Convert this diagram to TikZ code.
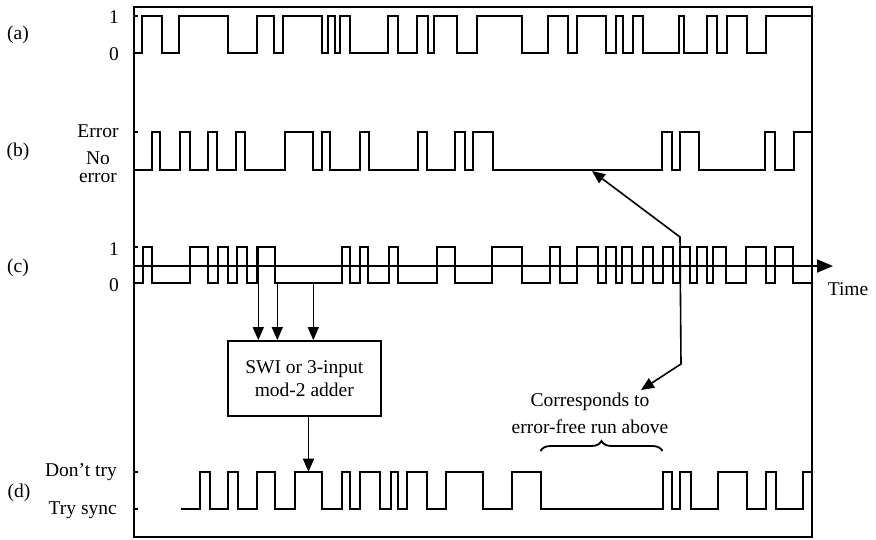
\documentclass[tikz,border=0pt]{standalone}
\usepackage{fontspec}
\setmainfont{Liberation Serif}
\usetikzlibrary{arrows.meta,decorations.pathreplacing}

\begin{document}
\begin{tikzpicture}[
  x=1pt, y=-1pt,
  font=\fontsize{19.5}{22}\selectfont,
  >={Triangle[length=13pt,width=11pt]},
  sig/.style={draw=black, line width=1.8pt},
  frame/.style={draw=black, line width=1.8pt},
  conn/.style={->, draw=black, line width=1.6pt},
  lvl/.style={anchor=east, inner sep=1pt},
  tag/.style={inner sep=1pt},
  word/.style={anchor=base, inner sep=0pt},
  adderbox/.style={draw, line width=1.6pt, minimum width=153pt, minimum height=75pt,
    align=center, inner sep=2pt, font=\fontsize{19.5}{23}\selectfont}
]
\path[use as bounding box] (0,0) rectangle (876,539);
\draw[frame] (134,7) rectangle (812,537);
\foreach \lv in {16,53,131.7,170,246.7,283,471.7,509.3}
  \draw[sig] (134,\lv) -- ++(4,0);

% (a) transmitted bits
\node[tag] (la) at (18,35) {(a)};
\node[lvl] (a1) at (120,17) {1};
\node[lvl] (a0) at (120,54) {0};
\draw[sig] (134,53) -| (141.7,16) -| (161.7,53) -| (179.3,16) -| (227.7,53)
  -| (256.7,16) -| (274.3,53) -| (283.3,16) -| (321.7,53) -| (327.7,16)
  -| (335,53) -| (340,16) -| (350,53) -| (388.3,16) -| (398.3,53)
  -| (417.3,16) -| (427.7,53) -| (434.3,16) -| (456.7,53) -| (476.7,16)
  -| (521.7,53) -| (548.3,16) -| (568.3,53) -| (576.7,16) -| (606,53)
  -| (616,16) -| (622.7,53) -| (632.7,16) -| (643.3,53) -| (679.3,16)
  -| (684,53) -| (706.7,16) -| (717.3,53) -| (726.7,16) -| (746.7,53)
  -| (766,16) -- (812,16);

% (b) error pattern
\node[tag] (lb) at (18,152) {(b)};
\node[word] (berr) at (98,137) {Error};
\node[tag, align=center, font=\fontsize{19.5}{18}\selectfont] (bno) at (98,167) {No\\error};
\draw[sig] (134,170) -| (151.7,131.7) -| (160,170) -| (180,131.7) -| (190,170)
  -| (207.7,131.7) -| (216.7,170) -| (236,131.7) -| (245,170) -| (285,131.7)
  -| (313.3,170) -| (321.7,131.7) -| (330,170) -| (360,131.7) -| (369.3,170)
  -| (418.3,131.7) -| (426.7,170) -| (455,131.7) -| (465,170) -| (473.3,131.7)
  -| (493.3,170) -| (661.7,131.7) -| (671.7,170) -| (680,131.7) -| (699.3,170)
  -| (765,131.7) -| (775,170) -| (794,131.7) -- (812,131.7);

% (c) received bits on the time axis
\node[tag] (lc) at (18,268) {(c)};
\node[lvl] (c1) at (120,249) {1};
\node[lvl] (c0) at (120,285) {0};
\draw[sig] (134,283) -| (143.3,246.7) -| (151.7,283) -| (190,246.7) -| (208.3,283)
  -| (218.3,246.7) -| (227.7,283) -| (236.7,246.7) -| (246.7,283) -| (256.7,246.7)
  -| (275,283) -| (341.7,246.7) -| (350,283) -| (360,246.7) -| (368.3,283)
  -| (389.3,246.7) -| (397.7,283) -| (436.7,246.7) -| (455,283) -| (492,246.7)
  -| (521.7,283) -| (550,246.7) -| (560,283) -| (577,246.7) -| (598,283)
  -| (606,246.7) -| (616,283) -| (622,246.7) -| (632,283) -| (643,246.7)
  -| (653,283) -| (663,246.7) -| (673,283) -| (680,246.7) -| (690,283)
  -| (697,246.7) -| (707,283) -| (713,246.7) -| (726,283) -| (746,246.7)
  -| (766,283) -| (775,246.7) -| (793,283) -- (812,283);
\draw[sig, -{Triangle[length=16pt,width=13pt]}] (134,266) -- (833,266);
\node[tag] (time) at (848,289) {Time};

% SWI / adder
\node[adderbox] (adder) at (304.3,378.4) {SWI or 3-input\\mod-2 adder};
\coordinate (in1) at (258.3,246.7);
\coordinate (in2) at (277.3,283);
\coordinate (in3) at (313.3,283);
\draw[conn] (in1) -- (in1 |- adder.north);
\draw[conn] (in2) -- (in2 |- adder.north);
\draw[conn] (in3) -- (in3 |- adder.north);
\coordinate (out) at (308.5,471.7);
\draw[conn] (out |- adder.south) -- (out);

% (d) sync decision
\node[tag] (ld) at (19,493) {(d)};
\node[lvl] (dno) at (118,472) {Don't try};
\node[lvl] (dyes) at (118,510) {Try sync};
\draw[sig] (180.7,509.3) -| (200,471.7) -| (210,509.3) -| (228.3,471.7) -| (238.3,509.3)
  -| (256.7,471.7) -| (275,509.3) -| (295,471.7) -| (321.7,509.3) -| (341.7,471.7)
  -| (350,509.3) -| (360,471.7) -| (380,509.3) -| (390.7,471.7) -| (398.3,509.3)
  -| (407.3,471.7) -| (426.7,509.3) -| (446,471.7) -| (483.3,509.3) -| (511.7,471.7)
  -| (540.7,509.3) -| (662.7,471.7) -| (671.7,509.3) -| (680,471.7) -| (690.7,509.3)
  -| (718.3,471.7) -| (747.3,509.3) -| (765.7,471.7) -| (775.7,509.3) -| (803.3,471.7)
  -- (812,471.7);

% note on the error-free run
\node[tag, align=center, font=\fontsize{19.5}{27}\selectfont] (note) at (590,413) {Corresponds to\\error-free run above};
\draw[sig, decorate, decoration={brace, amplitude=10pt}] (540.5,451) -- (662.5,451);
\coordinate (hit) at (592,171);
\coordinate (kneeA) at (680,237);
\coordinate (kneeB) at (681,364);
\coordinate (hitB) at (641,390);
\draw[conn, <->] (hit) -- (kneeA) -- (kneeB) -- (hitB);
\end{tikzpicture}
\end{document}
